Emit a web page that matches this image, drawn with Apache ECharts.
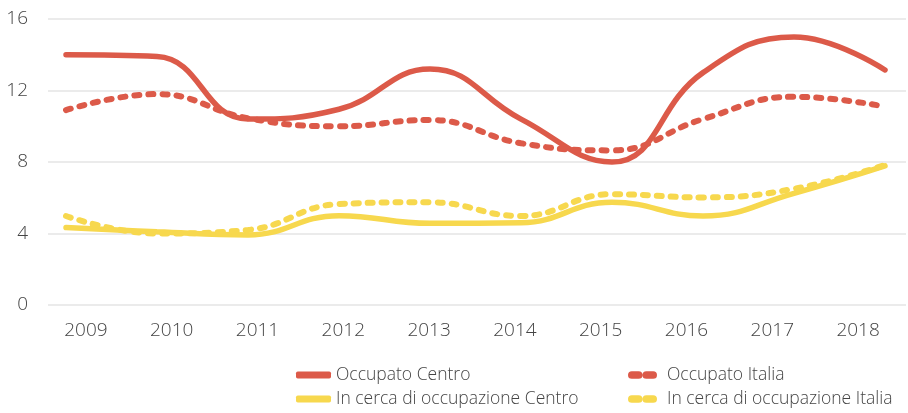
<!DOCTYPE html>
<html>
<head>
<meta charset="utf-8">
<script src="https://cdn.jsdelivr.net/npm/echarts@6/dist/echarts.min.js"></script>
<style>
    html, body { margin: 0; padding: 0; background: #fff; }
    #chart { width: 908px; height: 413px; }
</style>
</head>
<body>
<div id="chart"></div>
<script>
// values
let years = ['2009', '2010', '2011', '2012', '2013', '2014', '2015', '2016', '2017', '2018'];
let yTicks = [0, 4, 8, 12, 16];
let occupatoCentro = [14.0, 13.9, 10.4, 10.95, 13.2, 10.4, 8.0, 13.0, 15.0, 13.15];
let occupatoItalia = [10.9, 11.8, 10.45, 10.0, 10.35, 9.05, 8.65, 10.4, 11.65, 11.1];
let cercaCentro = [4.33, 4.1, 3.92, 5.0, 4.57, 4.6, 5.75, 4.98, 6.25, 7.78];
let cercaItalia = [4.98, 4.0, 4.2, 5.65, 5.75, 4.98, 6.2, 6.02, 6.5, 7.83];

let red = '#dc5a49';
let yellow = '#f7d84e';
let textColor = '#444';
let fontFamily = '"Open Sans", Lato, sans-serif';

let pillIcon = 'path://M4,0 H11 A4,4 0 0 1 11,8 H4 A4,4 0 0 1 4,0 Z M19,0 H26 A4,4 0 0 1 26,8 H19 A4,4 0 0 1 19,0 Z';

function makeLine(name, data, color, dashed) {
    return {
        name: name,
        type: 'line',
        xAxisIndex: 2,
        yAxisIndex: 2,
        data: data,
        smooth: 0.45,
        symbol: 'none',
        lineStyle: {
            color: color,
            width: dashed ? 6 : 5.5,
            type: dashed ? [5, 9] : 'solid',
            cap: 'round'
        },
        itemStyle: {color: color}
    };
}

let labelStyle = {color: textColor, fontSize: 19, fontWeight: 300, fontFamily: fontFamily};

let myChart = echarts.init(document.getElementById('chart'));
let option = {
    animation: false,
    backgroundColor: '#fff',
    textStyle: {fontFamily: fontFamily},
    grid: [
        {left: 48, right: 2, top: 19, bottom: 108},
        {left: 43, right: 7, top: 19, bottom: 108},
        {left: 66, right: 23, top: 19, bottom: 108}
    ],
    xAxis: [
        {gridIndex: 0, type: 'category', data: years, show: false},
        {
            gridIndex: 1, type: 'category', data: years, boundaryGap: true,
            axisLine: {show: false}, axisTick: {show: false},
            axisLabel: Object.assign({margin: 16}, labelStyle)
        },
        {gridIndex: 2, type: 'category', data: years, boundaryGap: false, show: false}
    ],
    yAxis: [
        {
            gridIndex: 0, type: 'value', min: yTicks[0], max: yTicks[yTicks.length - 1], interval: 4,
            axisLine: {show: false}, axisTick: {show: false},
            axisLabel: Object.assign({margin: 20}, labelStyle),
            splitLine: {lineStyle: {color: '#e4e4e4', width: 1.5}}
        },
        {gridIndex: 1, type: 'value', min: 0, max: 16, show: false},
        {gridIndex: 2, type: 'value', min: 0, max: 16, show: false}
    ],
    legend: [
        {
            left: 296, top: 365, orient: 'vertical', itemGap: 4, padding: 0,
            itemWidth: 35, itemHeight: 7, selectedMode: false,
            textStyle: {color: textColor, fontSize: 17.5, fontWeight: 300, fontFamily: fontFamily, lineHeight: 20},
            data: [
                {name: 'Occupato Centro', icon: 'roundRect'},
                {name: 'In cerca di occupazione Centro', icon: 'roundRect'}
            ]
        },
        {
            left: 628, top: 365, orient: 'vertical', itemGap: 4, padding: 0,
            itemWidth: 29, itemHeight: 8, selectedMode: false,
            textStyle: {color: textColor, fontSize: 17.5, fontWeight: 300, fontFamily: fontFamily, lineHeight: 20, padding: [0, 0, 0, 5]},
            data: [
                {name: 'Occupato Italia', icon: pillIcon},
                {name: 'In cerca di occupazione Italia', icon: pillIcon}
            ]
        }
    ],
    series: [
        makeLine('Occupato Centro', occupatoCentro, red, false),
        makeLine('Occupato Italia', occupatoItalia, red, true),
        makeLine('In cerca di occupazione Centro', cercaCentro, yellow, false),
        makeLine('In cerca di occupazione Italia', cercaItalia, yellow, true)
    ]
};
myChart.setOption(option);
</script>
</body>
</html>
